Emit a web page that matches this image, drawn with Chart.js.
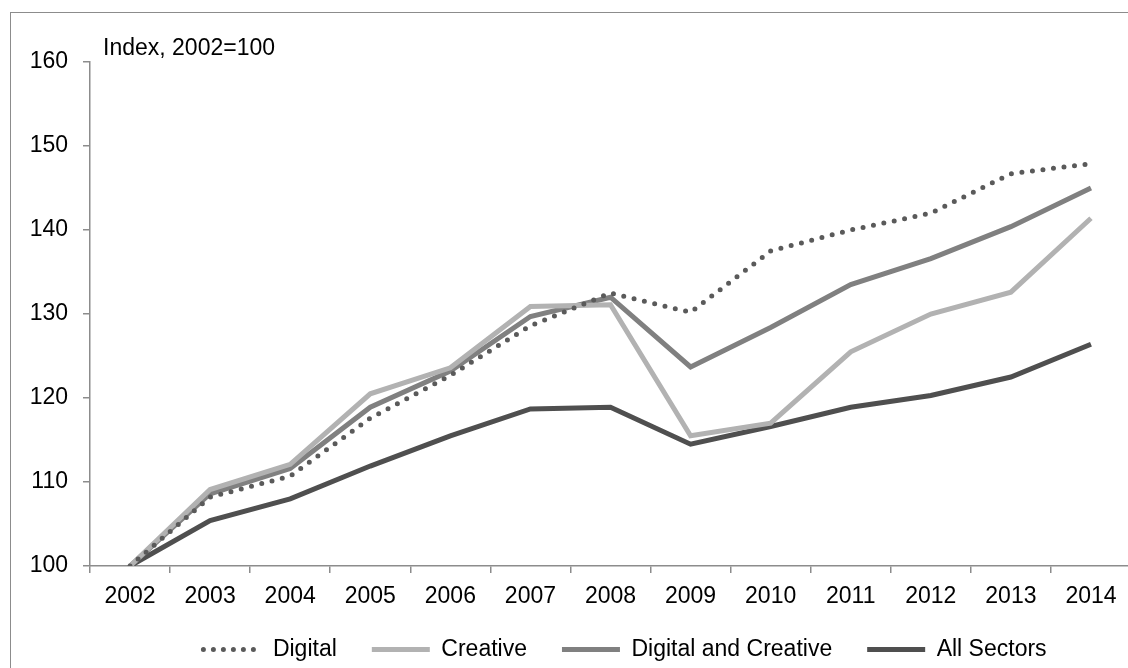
<!DOCTYPE html>
<html>
<head>
<meta charset="utf-8">
<script src="https://cdn.jsdelivr.net/npm/chart.js@4.4.1/dist/chart.umd.min.js"></script>
<style>
  html, body { margin: 0; padding: 0; background: #fff; overflow: hidden; }
  #frame { position: absolute; left: 10px; top: 12px; width: 2000px; height: 2000px;
           border-left: 1.5px solid #8c8c8c; border-top: 1.5px solid #8c8c8c; }
  #wrap { position: absolute; left: 0; top: 0; width: 1250px; height: 671px; }
</style>
</head>
<body>
<div id="frame"></div>
<div id="wrap"><canvas id="chart" width="1250" height="671"></canvas></div>
<script>
const years = ["2002", "2003", "2004", "2005", "2006", "2007", "2008",
  "2009", "2010", "2011", "2012", "2013", "2014"];
const digital = [100, 108.2, 110.7, 117.6, 122.7, 128.6, 132.5, 130.2, 137.5, 140.0, 142.0, 146.7, 147.9];
const creative = [100, 109.1, 112.1, 120.5, 123.6, 130.9, 131.1, 115.5, 117.0, 125.5, 130.0, 132.6, 141.4];
const digitalCreative = [100, 108.6, 111.6, 118.9, 123.2, 129.7, 132.0, 123.7, 128.4, 133.5, 136.6, 140.4, 145.0];
const allSectors = [100, 105.4, 108.0, 111.9, 115.5, 118.7, 118.9, 114.5, 116.6, 118.9, 120.3, 122.5, 126.4];
const yTicks = [100, 110, 120, 130, 140, 150, 160];
const axisTitle = "Index, 2002=100";

Chart.defaults.font.family = "'Liberation Sans', Arial, sans-serif";
Chart.defaults.font.size = 23;
Chart.defaults.color = "#000";

const axisGray = "#8c8c8c";

// unit note in the top-left corner of the plot
const notePlugin = {
  id: "note",
  afterDraw(chart) {
    const { ctx, chartArea } = chart;
    ctx.save();
    ctx.font = "23px 'Liberation Sans', Arial, sans-serif";
    ctx.fillStyle = "#000";
    ctx.textBaseline = "alphabetic";
    ctx.fillText(axisTitle, chartArea.left + 13, chartArea.top - 7);
    ctx.restore();
  },
};

function line(label, data, color, dashed) {
  return {
    label,
    data,
    borderColor: color,
    backgroundColor: color,
    borderWidth: 5,
    borderDash: dashed ? [0, 10.6] : [],
    borderCapStyle: dashed ? "round" : "butt",
    borderJoinStyle: "miter",
    pointRadius: 0,
    pointHoverRadius: 0,
    tension: 0,
    fill: false,
  };
}

new Chart(document.getElementById("chart"), {
  type: "line",
  data: {
    labels: years,
    datasets: [
      line("Digital", digital, "#5a5a5a", true),
      line("Creative", creative, "#b2b2b2", false),
      line("Digital and Creative", digitalCreative, "#808080", false),
      line("All Sectors", allSectors, "#4f4f4f", false),
    ],
  },
  options: {
    responsive: false,
    animation: false,
    devicePixelRatio: 1,
    layout: { padding: { top: 62, left: 0, right: 0, bottom: 0 } },
    plugins: {
      tooltip: { enabled: false },
      legend: {
        position: "bottom",
        labels: {
          usePointStyle: true,
          pointStyle: "line",
          pointStyleWidth: 58,
          padding: 35,
          color: "#000",
          font: { size: 23 },
          generateLabels(chart) {
            const items = Chart.defaults.plugins.legend.labels.generateLabels(chart);
            items.forEach((item) => {
              const ds = chart.data.datasets[item.datasetIndex];
              item.strokeStyle = ds.borderColor;
              item.lineWidth = 5;
              item.lineDash = ds.borderDash.length ? [0, 10] : [];
              item.lineCap = ds.borderCapStyle;
            });
            return items;
          },
        },
      },
    },
    scales: {
      x: {
        offset: true,
        grid: {
          offset: true,
          drawOnChartArea: false,
          drawTicks: true,
          tickLength: 7,
          color: axisGray,
          lineWidth: 1.5,
        },
        border: { color: axisGray, width: 1.5 },
        ticks: { padding: 10, maxRotation: 0, autoSkip: false },
        afterFit(scale) { scale.height = 37; },
      },
      y: {
        min: 100,
        max: 160,
        afterBuildTicks(scale) { scale.ticks = yTicks.map((v) => ({ value: v })); },
        grid: {
          drawOnChartArea: false,
          drawTicks: true,
          tickLength: 7,
          color: axisGray,
          lineWidth: 1.5,
        },
        border: { color: axisGray, width: 1.5 },
        ticks: { padding: 15 },
        afterFit(scale) { scale.width = 90; },
      },
      // empty right-hand spacer so the legend centres where the original does
      y2: {
        position: "right",
        grid: { display: false },
        border: { display: false },
        ticks: { display: false },
        afterFit(scale) { scale.width = 119; },
      },
    },
  },
  plugins: [notePlugin],
});
</script>
</body>
</html>
